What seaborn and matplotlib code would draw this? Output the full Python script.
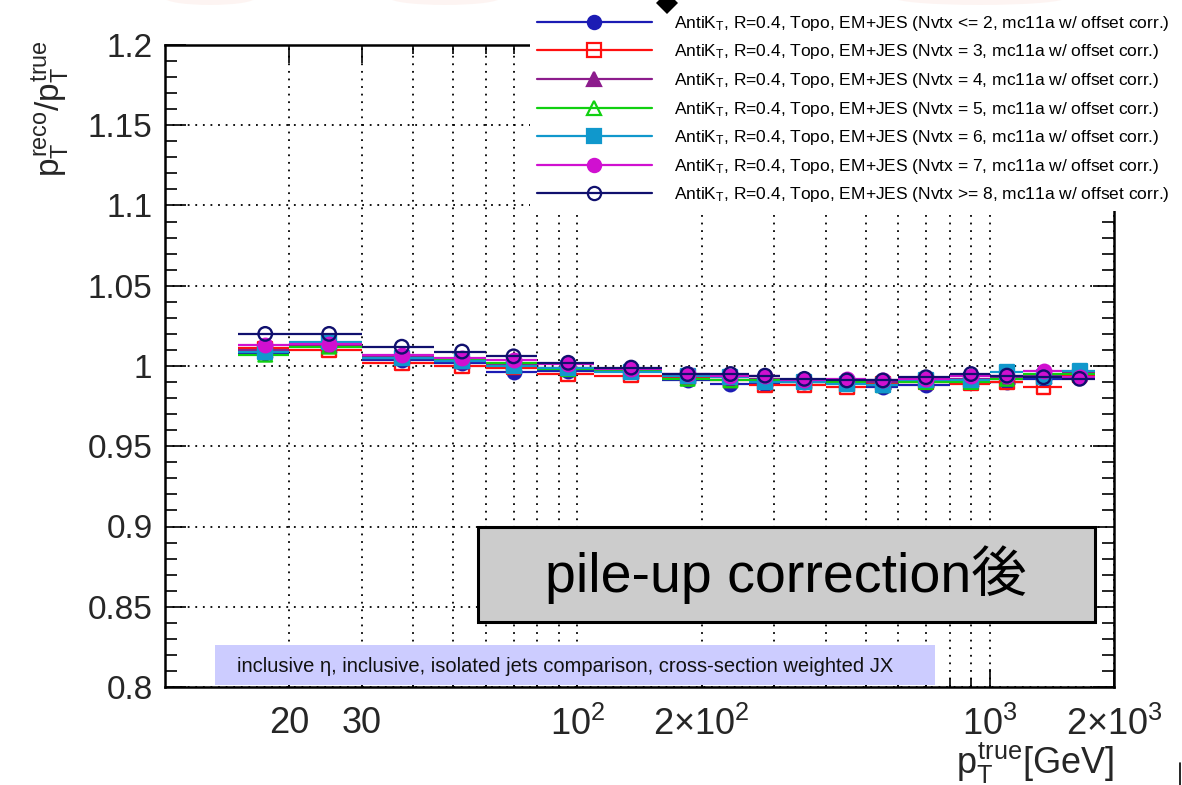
import matplotlib
matplotlib.use("Agg")
import matplotlib.pyplot as plt
import seaborn as sns
import numpy as np
import pandas as pd
from matplotlib.lines import Line2D
from matplotlib.patches import Rectangle, Polygon, Ellipse
from matplotlib.ticker import FixedLocator, FixedFormatter, NullFormatter

# Jet pT bin edges [GeV]
bin_edges = [15, 20, 30, 45, 60, 80, 110, 160, 210, 260, 310, 400, 500, 600,
             800, 1000, 1200, 1500, 1800]

# Response pT(reco)/pT(true) per pT bin, split by number of primary vertices
resp_nvtx_le2 = [1.008, 1.013, 1.004, 1.002, 0.996, 0.997, 0.997, 0.991, 0.989,
                 0.989, 0.990, 0.990, 0.987, 0.988, 0.991, 0.990, 0.992, 0.993]
resp_nvtx_3 = [1.011, 1.010, 1.002, 1.000, 0.999, 0.995, 0.994, 0.993, 0.991,
               0.988, 0.988, 0.987, 0.989, 0.990, 0.989, 0.990, 0.987, 0.994]
resp_nvtx_4 = [1.010, 1.013, 1.006, 1.003, 1.001, 0.999, 0.997, 0.994, 0.993,
               0.992, 0.991, 0.991, 0.990, 0.991, 0.992, 0.993, 0.994, 0.996]
resp_nvtx_5 = [1.007, 1.012, 1.005, 1.004, 1.002, 0.998, 0.997, 0.992, 0.991,
               0.991, 0.990, 0.990, 0.988, 0.990, 0.990, 0.992, 0.995, 0.995]
resp_nvtx_6 = [1.009, 1.015, 1.005, 1.003, 1.000, 0.999, 0.996, 0.994, 0.993,
               0.990, 0.990, 0.989, 0.988, 0.991, 0.991, 0.996, 0.993, 0.997]
resp_nvtx_7 = [1.013, 1.014, 1.007, 1.005, 1.004, 1.001, 0.998, 0.995, 0.994,
               0.994, 0.991, 0.992, 0.991, 0.992, 0.994, 0.994, 0.997, 0.993]
resp_nvtx_ge8 = [1.020, 1.020, 1.012, 1.009, 1.006, 1.002, 0.999, 0.995, 0.995,
                 0.994, 0.992, 0.991, 0.991, 0.993, 0.995, 0.994, 0.993, 0.992]

series_labels = [
    r"AntiK$_{\rm T}$, R=0.4, Topo, EM+JES (Nvtx <= 2, mc11a w/ offset corr.)",
    r"AntiK$_{\rm T}$, R=0.4, Topo, EM+JES (Nvtx = 3, mc11a w/ offset corr.)",
    r"AntiK$_{\rm T}$, R=0.4, Topo, EM+JES (Nvtx = 4, mc11a w/ offset corr.)",
    r"AntiK$_{\rm T}$, R=0.4, Topo, EM+JES (Nvtx = 5, mc11a w/ offset corr.)",
    r"AntiK$_{\rm T}$, R=0.4, Topo, EM+JES (Nvtx = 6, mc11a w/ offset corr.)",
    r"AntiK$_{\rm T}$, R=0.4, Topo, EM+JES (Nvtx = 7, mc11a w/ offset corr.)",
    r"AntiK$_{\rm T}$, R=0.4, Topo, EM+JES (Nvtx >= 8, mc11a w/ offset corr.)",
]
series_values = [resp_nvtx_le2, resp_nvtx_3, resp_nvtx_4, resp_nvtx_5,
                 resp_nvtx_6, resp_nvtx_7, resp_nvtx_ge8]
series_colors = ["#1c1cb4", "#ff1010", "#8c1c8c", "#10d010", "#1098cc",
                 "#d010d0", "#10106e"]
series_markers = ["o", "s", "^", "^", "s", "o", "o"]
series_filled = [True, False, True, False, True, True, False]

x_major_ticks = [20, 30, 100, 200, 1000, 2000]
x_major_labels = ["20", "30", r"$10^{2}$", r"2×$10^{2}$", r"$10^{3}$",
                  r"2×$10^{3}$"]
x_minor_ticks = [40, 50, 60, 70, 80, 90, 300, 400, 500, 600, 700, 800, 900]
y_major_ticks = [0.8, 0.85, 0.9, 0.95, 1.0, 1.05, 1.1, 1.15, 1.2]
y_major_labels = ["0.8", "0.85", "0.9", "0.95", "1", "1.05", "1.1", "1.15", "1.2"]
y_minor_ticks = list(np.round(np.arange(0.80, 1.2001, 0.01), 2))

sns.set_theme(style="ticks")
plt.rcParams["font.family"] = ["Liberation Sans", "DejaVu Sans"]
plt.rcParams["mathtext.fontset"] = "custom"
plt.rcParams["mathtext.rm"] = "Liberation Sans"
plt.rcParams["mathtext.it"] = "Liberation Sans"
plt.rcParams["mathtext.bf"] = "Liberation Sans:bold"
plt.rcParams["text.color"] = "black"

W, H = 1182, 785
fig = plt.figure(figsize=(W / 100, H / 100), dpi=100)
ax = fig.add_axes([165 / W, 1 - 687 / H, (1114 - 165) / W, (687 - 45) / H])

edges = np.asarray(bin_edges, dtype=float)
lo, hi = edges[:-1], edges[1:]
centers = 0.5 * (lo + hi)

for i, (vals, col, mk, filled) in enumerate(
        zip(series_values, series_colors, series_markers, series_filled)):
    z = 3 + i
    ax.hlines(vals, lo, hi, colors=col, linewidth=1.6, zorder=z)
    df = pd.DataFrame({"pt": centers, "resp": vals})
    sns.scatterplot(data=df, x="pt", y="resp", ax=ax, marker=mk, s=95,
                    color=col, facecolor=col if filled else "none",
                    edgecolor=col, linewidth=1.7, zorder=z + 0.5, legend=False)

ax.set_xscale("log")
ax.set_xlim(10, 2000)
ax.set_ylim(0.8, 1.2)

ax.xaxis.set_major_locator(FixedLocator(x_major_ticks))
ax.xaxis.set_major_formatter(FixedFormatter(x_major_labels))
ax.xaxis.set_minor_locator(FixedLocator(x_minor_ticks))
ax.xaxis.set_minor_formatter(NullFormatter())
ax.yaxis.set_major_locator(FixedLocator(y_major_ticks))
ax.yaxis.set_major_formatter(FixedFormatter(y_major_labels))
ax.yaxis.set_minor_locator(FixedLocator(y_minor_ticks))
ax.yaxis.set_minor_formatter(NullFormatter())

grid_style = dict(color="black", linestyle=(0, (1, 3.2)), linewidth=1.3)
ax.grid(True, which="both", axis="x", **grid_style)
ax.grid(True, which="major", axis="y", **grid_style)
ax.set_axisbelow(True)

ax.tick_params(which="both", direction="in", top=True, right=True,
               width=1.2, color="black")
ax.tick_params(axis="x", which="major", length=13, pad=14, labelsize=26)
ax.tick_params(axis="x", which="minor", length=6.5)
ax.tick_params(axis="y", which="major", length=15, pad=9, labelsize=24)
ax.tick_params(axis="y", which="minor", length=8.5)

for sp in ax.spines.values():
    sp.set_linewidth(1.8)
    sp.set_color("black")
    sp.set_zorder(12)

ax.set_ylabel(r"$p_{\rm T}^{\rm reco}/p_{\rm T}^{\rm true}$", fontsize=24,
              loc="top")
ax.yaxis.set_label_coords(-0.098, 1.008)
ax.set_xlabel(r"$p_{\rm T}^{\rm true}$[GeV]", fontsize=26, loc="right")
ax.xaxis.set_label_coords(1.0, -0.083)

# Selection caption along the bottom of the frame
ax.add_patch(Rectangle(((215 - 165) / 949, 0.003), (935 - 215) / 949, 40 / 642,
                       transform=ax.transAxes, facecolor="#ccccff",
                       edgecolor="none", zorder=8))
ax.text((237 - 165) / 949, 20 / 642,
        "inclusive η, inclusive, isolated jets comparison, cross-section weighted JX",
        transform=ax.transAxes, ha="left", va="center", fontsize=14.5,
        color="#111111", zorder=9)

# Title box
ax.add_patch(Rectangle(((478 - 165) / 949, (687 - 622) / 642),
                       (1095 - 478) / 949, (622 - 527) / 642,
                       transform=ax.transAxes, facecolor="#cccccc",
                       edgecolor="black", linewidth=2.2, zorder=8))
ax.text((786 - 165) / 949, (687 - 575) / 642, "pile-up correction後",
        transform=ax.transAxes, ha="center", va="center", fontsize=40,
        family=["Liberation Sans", "Noto Sans CJK JP"], zorder=9)

handles = [Line2D([0], [0], color=c, lw=1.6, marker=m, markersize=9.5,
                  markerfacecolor=c if f else "none", markeredgecolor=c,
                  markeredgewidth=1.6)
           for c, m, f in zip(series_colors, series_markers, series_filled)]
leg = ax.legend(handles, series_labels, loc="upper left",
                bbox_to_anchor=(530 / W, 1 - 7 / H),
                bbox_transform=fig.transFigure, fontsize=12.5, frameon=True,
                fancybox=False, framealpha=1, facecolor="white",
                edgecolor="none", handlelength=6.6, handletextpad=1.3,
                labelspacing=0.55, borderpad=0.4, borderaxespad=0)
leg.set_zorder(20)

# Slide decorations at the top edge and bottom-right corner
for cx, wd in [(210, 90), (445, 110), (980, 170)]:
    fig.patches.append(Ellipse((cx / W, 1.0 + 2 / H), wd / W, 14 / H,
                               transform=fig.transFigure, facecolor="#fdeeea",
                               edgecolor="none", alpha=0.6, zorder=0))
fig.patches.append(Polygon([(656 / W, 1 - 3 / H), (667 / W, 1 + 8 / H),
                            (678 / W, 1 - 3 / H), (667 / W, 1 - 14 / H)],
                           closed=True, transform=fig.transFigure,
                           facecolor="black", edgecolor="none", zorder=30))
fig.lines.append(Line2D([1180 / W, 1180 / W], [0, 22 / H],
                        transform=fig.transFigure, color="black", lw=1.2))

fig.savefig("out.png", dpi=100)
